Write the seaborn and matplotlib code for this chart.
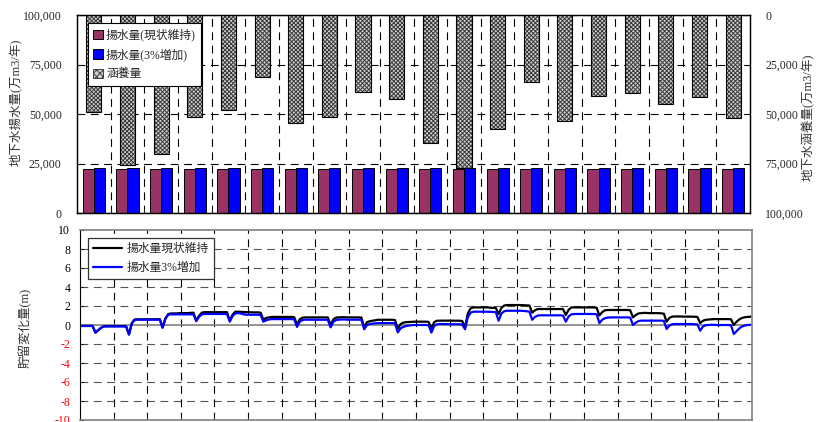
import numpy as np
import pandas as pd
import matplotlib
matplotlib.use("Agg")
import matplotlib.pyplot as plt
from matplotlib.patches import Patch
from matplotlib.lines import Line2D
import seaborn as sns

# ---- annual pumping / recharge (万m3/年) ----
years = [f"{i}年目" for i in range(1, 21)]
pump_keep = [22000] * 20          # 揚水量(現状維持)
pump_up = [22660] * 20            # 揚水量(3%増加)
recharge = [48800, 75600, 70200, 51700, 48000, 31500, 54700, 51700, 39000, 42600,
            64800, 77100, 57600, 33800, 53500, 40900, 39600, 45100, 41600, 52200]

# ---- monthly storage change (m), 20 years x 12 months ----
storage_keep = [
    -0.10, -0.10, -0.10, -0.10, -0.10, -0.80, -0.55, -0.30, -0.15, -0.12, -0.12, -0.12,
    -0.12, -0.12, -0.12, -0.12, -0.15, -1.00, 0.20, 0.58, 0.60, 0.60, 0.60, 0.60,
    0.60, 0.60, 0.60, 0.60, 0.62, -0.25, 0.70, 1.15, 1.22, 1.22, 1.22, 1.25,
    1.25, 1.25, 1.25, 1.28, 1.30, 0.50, 0.95, 1.30, 1.35, 1.35, 1.35, 1.35,
    1.35, 1.35, 1.35, 1.35, 1.35, 0.45, 1.10, 1.40, 1.40, 1.38, 1.36, 1.35,
    1.35, 1.33, 1.33, 1.33, 1.30, 0.55, 0.75, 0.80, 0.85, 0.85, 0.85, 0.85,
    0.85, 0.85, 0.85, 0.85, 0.82, 0.05, 0.60, 0.78, 0.80, 0.80, 0.80, 0.80,
    0.80, 0.80, 0.80, 0.80, 0.80, 0.00, 0.60, 0.78, 0.80, 0.82, 0.82, 0.80,
    0.80, 0.80, 0.80, 0.80, 0.78, -0.25, 0.30, 0.40, 0.45, 0.50, 0.55, 0.55,
    0.55, 0.55, 0.55, 0.55, 0.52, -0.40, 0.10, 0.25, 0.30, 0.32, 0.35, 0.35,
    0.35, 0.35, 0.35, 0.35, 0.33, -0.35, 0.30, 0.45, 0.46, 0.46, 0.46, 0.45,
    0.45, 0.45, 0.45, 0.45, 0.42, -0.25, 1.20, 1.75, 1.85, 1.85, 1.85, 1.85,
    1.85, 1.85, 1.82, 1.80, 1.80, 1.15, 1.80, 2.05, 2.10, 2.10, 2.10, 2.10,
    2.10, 2.10, 2.08, 2.05, 2.05, 1.30, 1.55, 1.68, 1.68, 1.68, 1.68, 1.68,
    1.68, 1.68, 1.68, 1.68, 1.68, 1.05, 1.60, 1.85, 1.85, 1.85, 1.85, 1.85,
    1.85, 1.85, 1.85, 1.85, 1.82, 1.00, 1.35, 1.55, 1.58, 1.58, 1.58, 1.58,
    1.58, 1.58, 1.58, 1.58, 1.55, 0.80, 1.05, 1.22, 1.25, 1.28, 1.26, 1.25,
    1.25, 1.25, 1.25, 1.22, 1.20, 0.35, 0.75, 0.88, 0.90, 0.90, 0.90, 0.88,
    0.88, 0.88, 0.88, 0.86, 0.85, 0.20, 0.45, 0.55, 0.58, 0.60, 0.62, 0.62,
    0.62, 0.62, 0.62, 0.62, 0.60, 0.00, 0.35, 0.60, 0.75, 0.82, 0.85, 0.88,
]
storage_up = [
    -0.10, -0.10, -0.10, -0.10, -0.10, -0.80, -0.55, -0.30, -0.15, -0.15, -0.15, -0.15,
    -0.15, -0.15, -0.15, -0.15, -0.18, -1.00, 0.15, 0.52, 0.56, 0.56, 0.56, 0.56,
    0.56, 0.56, 0.56, 0.56, 0.56, -0.30, 0.65, 1.08, 1.12, 1.12, 1.12, 1.12,
    1.12, 1.12, 1.12, 1.12, 1.12, 0.40, 0.85, 1.12, 1.16, 1.16, 1.16, 1.16,
    1.16, 1.16, 1.16, 1.16, 1.16, 0.35, 0.95, 1.22, 1.26, 1.20, 1.12, 1.08,
    1.08, 1.08, 1.08, 1.08, 1.05, 0.35, 0.50, 0.58, 0.62, 0.62, 0.62, 0.62,
    0.62, 0.62, 0.62, 0.62, 0.60, -0.20, 0.35, 0.52, 0.56, 0.56, 0.56, 0.56,
    0.56, 0.56, 0.56, 0.56, 0.55, -0.25, 0.35, 0.52, 0.56, 0.58, 0.58, 0.56,
    0.56, 0.56, 0.56, 0.56, 0.54, -0.45, 0.00, 0.10, 0.15, 0.18, 0.20, 0.20,
    0.20, 0.20, 0.20, 0.20, 0.18, -0.78, -0.35, -0.20, -0.10, -0.05, -0.02, 0.00,
    0.00, 0.00, 0.00, 0.00, -0.02, -0.80, -0.10, 0.08, 0.10, 0.10, 0.10, 0.08,
    0.08, 0.08, 0.08, 0.08, 0.05, -0.45, 0.80, 1.30, 1.40, 1.40, 1.40, 1.40,
    1.40, 1.40, 1.38, 1.36, 1.35, 0.45, 1.20, 1.45, 1.50, 1.50, 1.50, 1.50,
    1.50, 1.50, 1.48, 1.45, 1.40, 0.55, 0.85, 1.00, 1.02, 1.02, 1.02, 1.02,
    1.02, 1.02, 1.02, 1.02, 1.00, 0.35, 0.90, 1.12, 1.16, 1.16, 1.16, 1.16,
    1.16, 1.16, 1.16, 1.16, 1.14, 0.20, 0.55, 0.72, 0.78, 0.80, 0.80, 0.80,
    0.80, 0.80, 0.80, 0.80, 0.78, 0.00, 0.25, 0.42, 0.46, 0.46, 0.46, 0.46,
    0.46, 0.46, 0.46, 0.46, 0.44, -0.42, -0.05, 0.08, 0.10, 0.10, 0.10, 0.10,
    0.10, 0.10, 0.10, 0.08, 0.06, -0.60, -0.15, -0.02, 0.00, 0.02, 0.02, 0.00,
    0.00, 0.00, 0.00, 0.00, -0.02, -0.95, -0.65, -0.35, -0.15, -0.05, 0.00, 0.02,
]

LBL_KEEP = "揚水量(現状維持)"
LBL_UP = "揚水量(3%増加)"
LBL_RCH = "涵養量"
LINE_KEEP = "揚水量現状維持"
LINE_UP = "揚水量3%増加"

sns.set_style("ticks")
plt.rcParams["font.family"] = ["Liberation Serif", "Noto Sans CJK JP"]
plt.rcParams["axes.unicode_minus"] = False
plt.rcParams["hatch.linewidth"] = 0.7

pump_df = pd.DataFrame({
    "year": years * 2,
    "value": pump_keep + pump_up,
    "case": [LBL_KEEP] * 20 + [LBL_UP] * 20,
})
rch_df = pd.DataFrame({"year": years, "value": recharge})
months = np.arange(len(storage_keep)) + 0.5
line_df = pd.DataFrame({
    "t": np.concatenate([months, months]),
    "h": storage_keep + storage_up,
    "case": [LINE_KEEP] * len(storage_keep) + [LINE_UP] * len(storage_up),
})

fig = plt.figure(figsize=(8.19, 4.22), dpi=100)
ax = fig.add_axes([77 / 819, 1 - 213 / 422, 673 / 819, 198 / 422])
ax2 = ax.twinx()
axb = fig.add_axes([80 / 819, 1 - 420 / 422, 672 / 819, 190 / 422])

dash = (7, 5)
tick_fs = 8.5
hatch_face = "#d0d0d0"
hatch_line = "#3a3a3a"
hatch_pat = "xxxxxxxx"

# ---------- upper panel: pumping bars ----------
sns.barplot(data=pump_df, x="year", y="value", hue="case", order=years,
            palette=["#993366", "#0000FF"], width=0.66, gap=0,
            edgecolor="black", linewidth=0.7, saturation=1, legend=False, ax=ax)
ax.set_ylim(0, 100000)
ax.set_xlim(-0.5, len(years) - 0.5)
ax.set_yticks([0, 25000, 50000, 75000, 100000])
ax.set_yticklabels([f"{v:,}" for v in [0, 25000, 50000, 75000, 100000]])
ax.set_xticks(np.arange(len(years) - 1) + 0.5, minor=True)
ax.set_xticks([])
ax.set_xlabel("")
ax.set_axisbelow(True)
ax.yaxis.grid(True, color="black", linestyle=(0, dash), linewidth=0.8)
ax.xaxis.grid(True, which="minor", color="black", linestyle=(0, dash), linewidth=0.8)
ax.tick_params(axis="y", labelsize=tick_fs, direction="in", length=3, pad=11)
ax.tick_params(axis="x", which="minor", length=3, direction="in")
ax.set_ylabel("地下水揚水量(万m3/年)", fontsize=9, color="#333333")
ax.yaxis.set_label_coords(-0.08, 0.56)

# ---------- upper panel: recharge bars hanging from the top ----------
sns.barplot(data=rch_df, x="year", y="value", order=years, color=hatch_face,
            width=0.45, edgecolor=hatch_line, linewidth=0, saturation=1, ax=ax2)
for p in ax2.patches:
    p.set_hatch(hatch_pat)
sns.barplot(data=rch_df, x="year", y="value", order=years, fill=False,
            width=0.45, edgecolor="black", linewidth=0.8, ax=ax2)
ax2.set_ylim(100000, 0)
ax2.set_xlim(-0.5, len(years) - 0.5)
ax2.set_yticks([0, 25000, 50000, 75000, 100000])
ax2.set_yticklabels([f"{v:,}" for v in [0, 25000, 50000, 75000, 100000]])
ax2.tick_params(axis="y", labelsize=tick_fs, direction="in", length=0, pad=11)
ax2.set_xticks([])
ax2.set_xlabel("")
ax2.set_ylabel("地下水涵養量(万m3/年)", fontsize=9, color="#333333")
ax2.yaxis.set_label_coords(1.077, 0.485)
for a in (ax, ax2):
    for s in a.spines.values():
        s.set_color("black")
        s.set_linewidth(0.9)

bar_handles = [
    Patch(facecolor="#993366", edgecolor="black", linewidth=0.7),
    Patch(facecolor="#0000FF", edgecolor="black", linewidth=0.7),
    Patch(facecolor=hatch_face, edgecolor=hatch_line, hatch="xxxxx", linewidth=0.7),
]
leg = ax2.legend(bar_handles, [LBL_KEEP, LBL_UP, LBL_RCH], loc="upper left",
                 bbox_to_anchor=(0.016, 0.96), borderaxespad=0, fontsize=8.5,
                 frameon=True, fancybox=False, edgecolor="black", framealpha=1,
                 handlelength=0.8, handleheight=0.8, handletextpad=0.3,
                 labelspacing=0.6, borderpad=0.45)
leg.get_frame().set_linewidth(0.8)
leg.set_zorder(10)

# ---------- lower panel: storage change ----------
sns.lineplot(data=line_df, x="t", y="h", hue="case", palette=["black", "#0000FF"],
             linewidth=1.6, legend=False, ax=axb)
axb.set_xlim(0, len(storage_keep))
axb.set_ylim(-10, 10)
axb.set_xticks([])
axb.set_xticks(np.arange(12, len(storage_keep), 12), minor=True)
yt = list(range(-10, 11, 2))
axb.set_yticks(yt)
axb.set_yticklabels([str(v) for v in yt])
for lab, v in zip(axb.get_yticklabels(), yt):
    lab.set_color("red" if v < 0 else "black")
axb.set_xlabel("")
axb.set_ylabel("貯留変化量(m)", fontsize=9, color="#333333")
axb.yaxis.set_label_coords(-0.071, 0.484)
axb.tick_params(axis="y", labelsize=tick_fs, direction="in", length=3, pad=7)
axb.tick_params(axis="x", which="minor", length=3, direction="in")
for v in range(-8, 9, 2):
    if v == 0:
        axb.axhline(0, color="#808080", linewidth=1.2, zorder=1)
    else:
        axb.axhline(v, color="#555555", linestyle=(0, dash), linewidth=0.8, zorder=0)
axb.xaxis.grid(True, which="minor", color="black", linestyle=(0, dash), linewidth=0.8)
axb.set_axisbelow(True)
axb.spines["left"].set_color("black")
for side in ("top", "right", "bottom"):
    axb.spines[side].set_color("#808080")
    axb.spines[side].set_linewidth(1.2)

line_handles = [Line2D([], [], color="black", linewidth=1.6),
                Line2D([], [], color="#0000FF", linewidth=1.6)]
legb = axb.legend(line_handles, [LINE_KEEP, LINE_UP], loc="upper left",
                  bbox_to_anchor=(0.012, 0.958), borderaxespad=0, fontsize=8.5,
                  frameon=True, fancybox=False, edgecolor="#333333", framealpha=1,
                  handlelength=2.4, handletextpad=0.4, labelspacing=0.55,
                  borderpad=0.45)
legb.get_frame().set_linewidth(0.9)

fig.savefig("out.png", dpi=100)
